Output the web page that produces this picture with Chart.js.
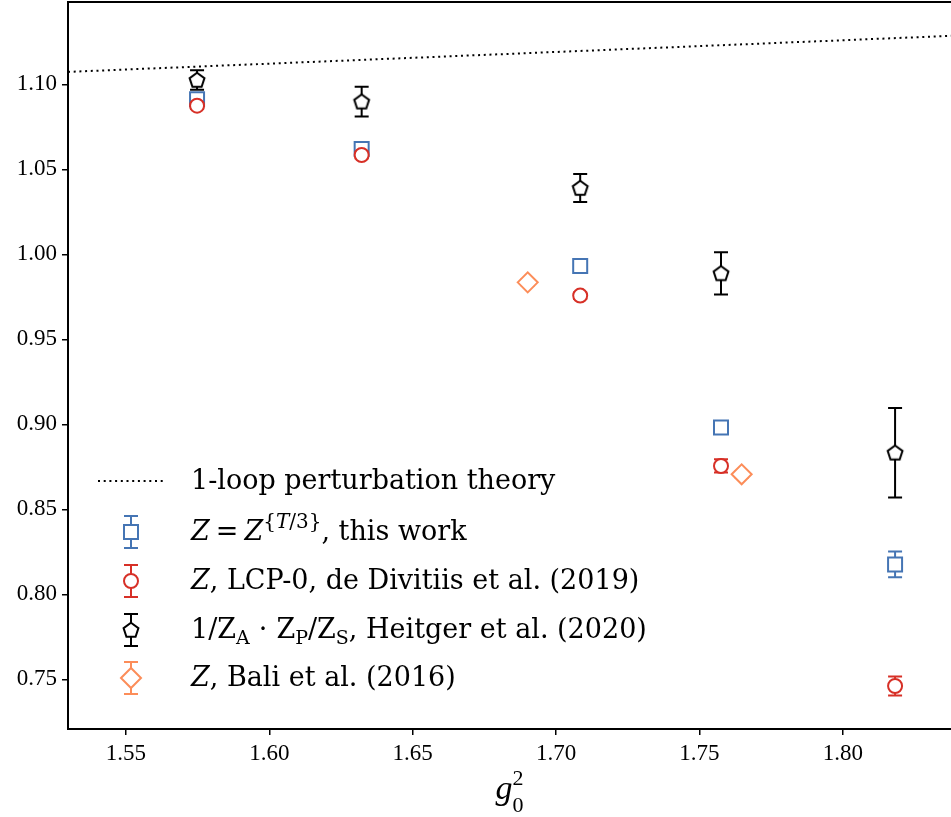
<!DOCTYPE html>
<html><head><meta charset="utf-8">
<script src="https://cdn.jsdelivr.net/npm/chart.js@4/dist/chart.umd.min.js"></script>
<style>
html,body{margin:0;padding:0;background:#fff;overflow:hidden}
#wrap{position:relative;width:951px;height:817px}
canvas{display:block}
.leg{position:absolute;left:191px;font-family:"DejaVu Serif",serif;font-size:27px;color:#000;white-space:nowrap;line-height:32px;height:32px}
.leg i,.xt i{font-style:italic}
.leg sup{font-size:20px;vertical-align:12px;line-height:0}
.leg sub{font-size:19px;vertical-align:-6px;line-height:0}
.sp{display:inline-block;width:6px}
.sp2{display:inline-block;width:9px}
.xt{position:absolute;font-family:"Liberation Serif",serif;font-size:34px;color:#000;white-space:nowrap;line-height:1}
</style></head><body>
<div id="wrap"><canvas id="c"></canvas>
<div class="leg" id="l1">1-loop perturbation theory</div>
<div class="leg" id="l2"><i>Z</i><span class="sp"></span>=<span class="sp"></span><i>Z</i><sup>{<i>T</i>/3}</sup>, this work</div>
<div class="leg" id="l3"><i>Z</i>, LCP-0, de Divitiis et al. (2019)</div>
<div class="leg" id="l4">1/Z<sub>A</sub><span class="sp2"></span>·<span class="sp2"></span>Z<sub>P</sub>/Z<sub>S</sub>, Heitger et al. (2020)</div>
<div class="leg" id="l5"><i>Z</i>, Bali et al. (2016)</div>
<div class="xt" id="xt"><i>g</i><span style="display:inline-block;position:relative;width:12px;height:1px"><span style="position:absolute;left:0;top:-4px;font-size:22px">0</span><span style="position:absolute;left:0;top:-31px;font-size:22px">2</span></span></div>
</div>
<script>
// ---- data ----
const g2 = [1.5748, 1.6322, 1.7084, 1.7575, 1.8182];
const zThisWork = [1.0912, 1.0620, 0.9931, 0.8982, 0.8176];
const zThisWorkErr = [0.002, 0.002, 0.002, 0.002, 0.0076];
const zLCP0 = [1.0874, 1.0584, 0.9757, 0.8755, 0.7461];
const zLCP0Err = [0.002, 0.002, 0.002, 0.0039, 0.0056];
const zHeitger = [1.1025, 1.0898, 1.0390, 0.9888, 0.8833];
const zHeitgerErr = [0.0057, 0.0087, 0.0083, 0.0124, 0.0263];
const baliG2 = [1.6901, 1.7647];
const zBali = [0.9835, 0.8706];
const zBaliErr = [0.002, 0.002];
const ptG2 = [1.5298, 1.8377];
const ptZ = [1.1073, 1.1285];
const xTicks = [1.55, 1.60, 1.65, 1.70, 1.75, 1.80];
const yTicks = [0.75, 0.80, 0.85, 0.90, 0.95, 1.00, 1.05, 1.10];

const BLUE = '#4575b4', RED = '#d73027', BLACK = '#000000', ORANGE = '#fc8d59';

function pentagonImg() {
  const c = document.createElement('canvas');
  c.width = 22; c.height = 22;
  const x = c.getContext('2d');
  x.lineWidth = 2; x.strokeStyle = BLACK; x.fillStyle = '#fff'; x.lineJoin = 'miter';
  x.beginPath();
  for (let i = 0; i < 5; i++) {
    const a = -Math.PI / 2 + i * 2 * Math.PI / 5;
    const px = 11 + 7.8 * Math.cos(a), py = 11.5 + 7.8 * Math.sin(a);
    i ? x.lineTo(px, py) : x.moveTo(px, py);
  }
  x.closePath(); x.fill(); x.stroke();
  return c;
}
const PENT = pentagonImg();

const pts = (xs, ys) => xs.map((x, i) => ({ x: x, y: ys[i] }));

const errPlugin = {
  id: 'errbars',
  beforeDatasetDraw(chart, args) {
    const ds = chart.data.datasets[args.index];
    if (!ds.errs) return;
    const ctx = chart.ctx, xs = chart.scales.x, ys = chart.scales.y;
    ctx.save();
    ctx.strokeStyle = ds.borderColor; ctx.lineWidth = 2;
    ds.data.forEach((p, i) => {
      const e = ds.errs[i];
      const px = xs.getPixelForValue(p.x);
      const y1 = ys.getPixelForValue(p.y + e), y2 = ys.getPixelForValue(p.y - e);
      ctx.beginPath();
      ctx.moveTo(px, y1); ctx.lineTo(px, y2);
      ctx.moveTo(px - 7, y1); ctx.lineTo(px + 7, y1);
      ctx.moveTo(px - 7, y2); ctx.lineTo(px + 7, y2);
      ctx.stroke();
    });
    ctx.restore();
  }
};

const legendRows = [481, 532, 581, 630, 678];
const frame = {
  id: 'frame',
  afterDraw(chart) {
    const ctx = chart.ctx, a = chart.chartArea;
    ctx.save();
    ctx.strokeStyle = '#000'; ctx.lineWidth = 2;
    ctx.beginPath(); ctx.moveTo(a.left - 1, a.top); ctx.lineTo(a.right, a.top); ctx.stroke();
    // legend handles
    const hx = 131;
    ctx.setLineDash([2, 3.7]); ctx.lineWidth = 2;
    ctx.beginPath(); ctx.moveTo(98, legendRows[0]); ctx.lineTo(164, legendRows[0]); ctx.stroke();
    ctx.setLineDash([]);
    const cols = [BLUE, RED, BLACK, ORANGE];
    for (let k = 0; k < 4; k++) {
      const y = legendRows[k + 1];
      ctx.strokeStyle = cols[k]; ctx.lineWidth = 2;
      ctx.beginPath();
      ctx.moveTo(hx, y - 16); ctx.lineTo(hx, y + 16);
      ctx.moveTo(hx - 7, y - 16); ctx.lineTo(hx + 7, y - 16);
      ctx.moveTo(hx - 7, y + 16); ctx.lineTo(hx + 7, y + 16);
      ctx.stroke();
      ctx.fillStyle = '#fff';
      ctx.beginPath();
      if (k === 0) { ctx.rect(hx - 7, y - 7, 14, 14); }
      else if (k === 1) { ctx.arc(hx, y, 7, 0, 2 * Math.PI); }
      else if (k === 3) { ctx.moveTo(hx - 10, y); ctx.lineTo(hx, y - 10); ctx.lineTo(hx + 10, y); ctx.lineTo(hx, y + 10); ctx.closePath(); }
      if (k === 2) { ctx.drawImage(PENT, hx - 11, y - 11); }
      else { ctx.fill(); ctx.stroke(); }
    }
    ctx.restore();
  }
};

const noPad = s => { s.paddingTop = 0; s.paddingBottom = 0; s.paddingLeft = 0; s.paddingRight = 0; };

const ctxEl = document.getElementById('c');
const chart = new Chart(ctxEl, {
  type: 'scatter',
  data: {
    datasets: [
      { label: 'pt', type: 'line', data: pts(ptG2, ptZ), borderColor: BLACK, borderWidth: 2, borderDash: [2, 3.7], pointRadius: 0, fill: false, order: 5 },
      { label: 'this work', data: pts(g2, zThisWork), errs: zThisWorkErr, borderColor: BLUE, pointBorderColor: BLUE, pointBackgroundColor: '#fff', pointStyle: 'rect', pointRadius: 9.9, pointBorderWidth: 2, order: 4 },
      { label: 'LCP-0', data: pts(g2, zLCP0), errs: zLCP0Err, borderColor: RED, pointBorderColor: RED, pointBackgroundColor: '#fff', pointStyle: 'circle', pointRadius: 7, pointBorderWidth: 2, order: 3 },
      { label: 'Heitger', data: pts(g2, zHeitger), errs: zHeitgerErr, borderColor: BLACK, pointBorderColor: BLACK, pointBackgroundColor: '#fff', pointStyle: PENT, pointRadius: 8, pointBorderWidth: 2, order: 2 },
      { label: 'Bali', data: pts(baliG2, zBali), errs: zBaliErr, borderColor: ORANGE, pointBorderColor: ORANGE, pointBackgroundColor: '#fff', pointStyle: 'rectRot', pointRadius: 10, pointBorderWidth: 2, order: 1 }
    ]
  },
  options: {
    responsive: true, maintainAspectRatio: false, animation: false, events: [],
    layout: { autoPadding: false, padding: { top: 2, right: 0, left: 0, bottom: 0 } },
    plugins: { legend: { display: false }, tooltip: { enabled: false } },
    scales: {
      x: {
        type: 'linear', min: 1.5298, max: 1.8377,
        afterBuildTicks: s => { s.ticks = xTicks.map(v => ({ value: v })); },
        afterFit: s => { s.height = 88; noPad(s); },
        grid: { display: true, drawOnChartArea: false, drawTicks: true, tickLength: 6, color: '#000', lineWidth: 1.5 },
        border: { display: true, color: '#000', width: 2 },
        ticks: { color: '#000', padding: 5, maxRotation: 0, font: { family: 'Liberation Serif', size: 23 }, callback: v => Number(v).toFixed(2) }
      },
      y: {
        type: 'linear', min: 0.7208, max: 1.1484,
        afterBuildTicks: s => { s.ticks = yTicks.map(v => ({ value: v })); },
        afterFit: s => { s.width = 68; noPad(s); },
        grid: { display: true, drawOnChartArea: false, drawTicks: true, tickLength: 6, color: '#000', lineWidth: 1.5 },
        border: { display: true, color: '#000', width: 2 },
        ticks: { color: '#000', padding: 5, font: { family: 'Liberation Serif', size: 23 }, callback: v => Number(v).toFixed(2) }
      }
    }
  },
  plugins: [errPlugin, frame]
});

for (let k = 0; k < 5; k++) {
  const el = document.getElementById('l' + (k + 1));
  el.style.top = (legendRows[k] - 17) + 'px';
}
const xt = document.getElementById('xt');
xt.style.left = (510 - xt.offsetWidth / 2) + 'px';
xt.style.top = '771px';
</script>
</body></html>
